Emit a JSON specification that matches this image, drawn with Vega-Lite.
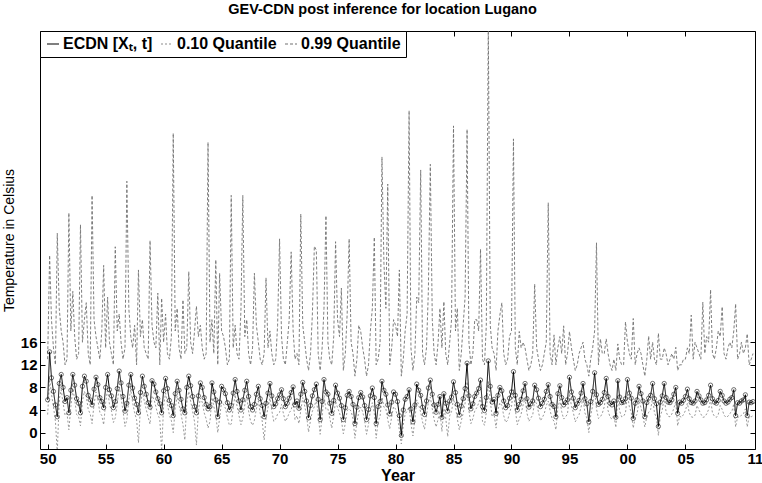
{
"$schema":"https://vega.github.io/schema/vega-lite/v6.json",
"width":715,"height":418,
"autosize":{"type":"none"},
"padding":{"left":40,"top":31,"right":7,"bottom":34},
"background":"white",
"title":{"text":"GEV-CDN post inference for location Lugano","font":"Liberation Sans","fontSize":14.5,"fontWeight":"bold","color":"black","offset":13,"dx":-15},
"config":{"view":{"stroke":"black","strokeWidth":1},"axis":{"labelFont":"Liberation Sans","titleFont":"Liberation Sans","labelColor":"black","titleColor":"black","tickColor":"black","grid":false,"domain":false},
 "legend":{"title":null,"orient":"top-left","direction":"horizontal","offset":0,"padding":5,"strokeColor":"black","fillColor":"white","symbolType":"stroke","symbolSize":144,"symbolStrokeWidth":1.2,"labelFont":"Liberation Sans","labelFontSize":16,"labelFontWeight":"bold","labelColor":"black","labelOffset":2,"columnPadding":5}},
"data":{"values":[
{"t":1950,"m":5.8,"a":3.2,"b":13},{"t":1950.17,"m":14.3,"a":9.5,"b":31.4},{"t":1950.33,"m":9.7,"a":6.8,"b":20},{"t":1950.5,"m":7.3,"a":4.6,"b":15},{"t":1950.67,"m":4.9,"a":2.0,"b":12},{"t":1950.83,"m":2.8,"a":-3.5,"b":35.3},
{"t":1951,"m":8.7,"a":5.9,"b":22},{"t":1951.17,"m":10.3,"a":7.6,"b":18},{"t":1951.33,"m":8.0,"a":5.2,"b":16},{"t":1951.5,"m":5.5,"a":3.1,"b":12},{"t":1951.67,"m":6.2,"a":3.4,"b":13},{"t":1951.83,"m":3.5,"a":0.5,"b":38.9},
{"t":1952,"m":7.5,"a":4.6,"b":18},{"t":1952.17,"m":10.3,"a":7.8,"b":25},{"t":1952.33,"m":8.4,"a":5.9,"b":17},{"t":1952.5,"m":6.0,"a":3.2,"b":13},{"t":1952.67,"m":5.2,"a":2.8,"b":14},{"t":1952.83,"m":3.5,"a":1.2,"b":36.8},
{"t":1953,"m":8.2,"a":5.6,"b":16},{"t":1953.17,"m":10.0,"a":7.3,"b":20},{"t":1953.33,"m":9.1,"a":6.4,"b":23},{"t":1953.5,"m":6.6,"a":4.1,"b":14},{"t":1953.67,"m":5.8,"a":3.3,"b":12},{"t":1953.83,"m":4.9,"a":1.6,"b":42},
{"t":1954,"m":7.7,"a":5.0,"b":20},{"t":1954.17,"m":9.8,"a":7.2,"b":17},{"t":1954.33,"m":8.5,"a":5.8,"b":15},{"t":1954.5,"m":6.2,"a":3.6,"b":13},{"t":1954.67,"m":5.5,"a":3.0,"b":18},{"t":1954.83,"m":4.4,"a":1.4,"b":29.6},
{"t":1955,"m":8.0,"a":5.3,"b":15},{"t":1955.17,"m":10.3,"a":7.7,"b":24},{"t":1955.33,"m":7.6,"a":5.0,"b":16},{"t":1955.5,"m":6.5,"a":3.9,"b":14},{"t":1955.67,"m":4.4,"a":1.8,"b":12},{"t":1955.83,"m":5.5,"a":2.6,"b":32.9},
{"t":1956,"m":7.8,"a":5.1,"b":18},{"t":1956.17,"m":10.9,"a":8.1,"b":21},{"t":1956.33,"m":8.8,"a":6.2,"b":16},{"t":1956.5,"m":6.4,"a":3.8,"b":13},{"t":1956.67,"m":3.8,"a":1.1,"b":15},{"t":1956.83,"m":5.2,"a":2.3,"b":44.5},
{"t":1957,"m":8.4,"a":5.8,"b":22},{"t":1957.17,"m":10.3,"a":7.6,"b":17},{"t":1957.33,"m":7.9,"a":5.3,"b":15},{"t":1957.5,"m":6.1,"a":3.5,"b":19},{"t":1957.67,"m":5.0,"a":2.3,"b":12},{"t":1957.83,"m":3.5,"a":-1.8,"b":28.8},
{"t":1958,"m":7.1,"a":4.4,"b":17},{"t":1958.17,"m":10.0,"a":7.4,"b":20},{"t":1958.33,"m":8.2,"a":5.6,"b":15},{"t":1958.5,"m":6.8,"a":4.1,"b":14},{"t":1958.67,"m":5.3,"a":2.7,"b":13},{"t":1958.83,"m":4.5,"a":1.5,"b":34},
{"t":1959,"m":9.2,"a":6.5,"b":19},{"t":1959.17,"m":8.6,"a":5.9,"b":16},{"t":1959.33,"m":7.2,"a":4.6,"b":15},{"t":1959.5,"m":6.0,"a":3.2,"b":24.7},{"t":1959.67,"m":5.1,"a":2.4,"b":12},{"t":1959.83,"m":3.5,"a":-3.2,"b":23.8},
{"t":1960,"m":7.4,"a":4.8,"b":16},{"t":1960.17,"m":9.6,"a":7.0,"b":21},{"t":1960.33,"m":7.8,"a":5.1,"b":14},{"t":1960.5,"m":5.7,"a":3.1,"b":13},{"t":1960.67,"m":4.8,"a":2.1,"b":17},{"t":1960.83,"m":3.0,"a":0.0,"b":53},
{"t":1961,"m":6.9,"a":4.3,"b":18},{"t":1961.17,"m":9.1,"a":6.5,"b":22},{"t":1961.33,"m":7.5,"a":4.9,"b":15},{"t":1961.5,"m":5.9,"a":3.3,"b":13},{"t":1961.67,"m":4.2,"a":1.4,"b":23.5},{"t":1961.83,"m":3.5,"a":-1.3,"b":14},
{"t":1962,"m":8.0,"a":5.4,"b":15},{"t":1962.17,"m":10.0,"a":7.3,"b":28.5},{"t":1962.33,"m":8.3,"a":5.6,"b":16},{"t":1962.5,"m":6.4,"a":3.8,"b":14},{"t":1962.67,"m":4.6,"a":1.9,"b":18},{"t":1962.83,"m":3.5,"a":-2.2,"b":22.4},
{"t":1963,"m":6.5,"a":3.9,"b":17},{"t":1963.17,"m":8.8,"a":6.1,"b":19},{"t":1963.33,"m":8.0,"a":5.4,"b":15},{"t":1963.5,"m":6.2,"a":3.5,"b":13},{"t":1963.67,"m":5.0,"a":2.4,"b":14},{"t":1963.83,"m":4.2,"a":0.8,"b":51.4},
{"t":1964,"m":4.6,"a":2.0,"b":16},{"t":1964.17,"m":8.8,"a":6.2,"b":20},{"t":1964.33,"m":7.2,"a":4.6,"b":14},{"t":1964.5,"m":5.8,"a":3.1,"b":30.6},{"t":1964.67,"m":2.8,"a":0.0,"b":12},{"t":1964.83,"m":5.4,"a":2.6,"b":28.2},
{"t":1965,"m":8.2,"a":5.5,"b":18},{"t":1965.17,"m":7.6,"a":5.0,"b":17},{"t":1965.33,"m":6.9,"a":4.3,"b":15},{"t":1965.5,"m":5.3,"a":2.7,"b":12},{"t":1965.67,"m":4.0,"a":1.3,"b":13},{"t":1965.83,"m":4.8,"a":1.5,"b":42},
{"t":1966,"m":7.0,"a":4.4,"b":15},{"t":1966.17,"m":9.4,"a":6.7,"b":19},{"t":1966.33,"m":7.3,"a":4.7,"b":14},{"t":1966.5,"m":5.6,"a":3.0,"b":13},{"t":1966.67,"m":4.0,"a":1.4,"b":21.7},{"t":1966.83,"m":5.8,"a":2.6,"b":42},
{"t":1967,"m":7.5,"a":4.9,"b":17},{"t":1967.17,"m":9.1,"a":6.4,"b":20},{"t":1967.33,"m":6.4,"a":3.8,"b":14},{"t":1967.5,"m":4.6,"a":2.0,"b":12},{"t":1967.67,"m":4.0,"a":1.3,"b":15},{"t":1967.83,"m":5.0,"a":2.2,"b":28.2},
{"t":1968,"m":6.8,"a":4.2,"b":19},{"t":1968.17,"m":8.2,"a":5.6,"b":16},{"t":1968.33,"m":6.0,"a":3.4,"b":13},{"t":1968.5,"m":4.8,"a":2.1,"b":12},{"t":1968.67,"m":2.8,"a":-1.3,"b":14},{"t":1968.83,"m":5.2,"a":2.5,"b":27.4},
{"t":1969,"m":7.0,"a":4.4,"b":15},{"t":1969.17,"m":8.7,"a":6.1,"b":18},{"t":1969.33,"m":6.5,"a":3.9,"b":14},{"t":1969.5,"m":4.6,"a":2.0,"b":12},{"t":1969.67,"m":5.1,"a":2.4,"b":13},{"t":1969.83,"m":6.0,"a":3.3,"b":19},
{"t":1970,"m":6.7,"a":3.6,"b":34.3},{"t":1970.17,"m":7.6,"a":5.0,"b":17},{"t":1970.33,"m":6.0,"a":3.4,"b":13},{"t":1970.5,"m":4.6,"a":2.0,"b":12},{"t":1970.67,"m":5.2,"a":2.6,"b":16},{"t":1970.83,"m":6.1,"a":3.5,"b":20},
{"t":1971,"m":7.1,"a":4.0,"b":32},{"t":1971.17,"m":8.1,"a":5.5,"b":18},{"t":1971.33,"m":4.9,"a":2.3,"b":13},{"t":1971.5,"m":5.6,"a":3.0,"b":14},{"t":1971.67,"m":4.3,"a":1.6,"b":12},{"t":1971.83,"m":6.8,"a":3.9,"b":38.7},
{"t":1972,"m":8.9,"a":6.2,"b":19},{"t":1972.17,"m":7.3,"a":4.7,"b":16},{"t":1972.33,"m":5.6,"a":3.0,"b":13},{"t":1972.5,"m":2.6,"a":0.1,"b":11},{"t":1972.67,"m":4.8,"a":2.2,"b":14},{"t":1972.83,"m":6.5,"a":3.8,"b":21},
{"t":1973,"m":7.6,"a":4.6,"b":33},{"t":1973.17,"m":8.6,"a":5.9,"b":32.3},{"t":1973.33,"m":5.9,"a":3.3,"b":14},{"t":1973.5,"m":2.3,"a":-0.3,"b":11},{"t":1973.67,"m":5.5,"a":2.8,"b":15},{"t":1973.83,"m":9.4,"a":6.6,"b":22},
{"t":1974,"m":7.2,"a":4.1,"b":38.4},{"t":1974.17,"m":6.8,"a":4.2,"b":16},{"t":1974.33,"m":5.2,"a":2.6,"b":13},{"t":1974.5,"m":3.4,"a":0.8,"b":12},{"t":1974.67,"m":5.7,"a":3.0,"b":17},{"t":1974.83,"m":8.4,"a":5.6,"b":33.8},
{"t":1975,"m":7.0,"a":4.4,"b":20},{"t":1975.17,"m":6.1,"a":3.5,"b":17},{"t":1975.33,"m":4.8,"a":2.2,"b":25.6},{"t":1975.5,"m":2.3,"a":-0.2,"b":11},{"t":1975.67,"m":4.4,"a":1.7,"b":14},{"t":1975.83,"m":6.6,"a":3.9,"b":21},
{"t":1976,"m":7.3,"a":4.2,"b":34.3},{"t":1976.17,"m":6.4,"a":3.8,"b":16},{"t":1976.33,"m":5.0,"a":2.4,"b":14},{"t":1976.5,"m":1.6,"a":-1.0,"b":10},{"t":1976.67,"m":4.5,"a":1.9,"b":13},{"t":1976.83,"m":6.2,"a":3.6,"b":19},
{"t":1977,"m":7.1,"a":4.5,"b":17.9},{"t":1977.17,"m":6.3,"a":3.7,"b":15},{"t":1977.33,"m":4.8,"a":2.2,"b":13},{"t":1977.5,"m":2.3,"a":-0.3,"b":10},{"t":1977.67,"m":4.1,"a":1.5,"b":12},{"t":1977.83,"m":6.5,"a":3.9,"b":18},
{"t":1978,"m":7.9,"a":5.3,"b":22},{"t":1978.17,"m":6.2,"a":3.4,"b":34.6},{"t":1978.33,"m":1.6,"a":-1.0,"b":12},{"t":1978.5,"m":4.6,"a":2.0,"b":13},{"t":1978.67,"m":5.5,"a":2.9,"b":16},{"t":1978.83,"m":9.1,"a":6.3,"b":48.8},
{"t":1979,"m":7.5,"a":4.5,"b":30},{"t":1979.17,"m":6.8,"a":4.2,"b":22},{"t":1979.33,"m":4.9,"a":2.3,"b":44},{"t":1979.5,"m":3.3,"a":0.7,"b":12},{"t":1979.67,"m":5.4,"a":2.8,"b":15},{"t":1979.83,"m":7.2,"a":4.6,"b":20},
{"t":1980,"m":6.8,"a":4.2,"b":19},{"t":1980.17,"m":5.5,"a":2.9,"b":17},{"t":1980.33,"m":3.0,"a":0.4,"b":28.8},{"t":1980.5,"m":-0.5,"a":-2.0,"b":10},{"t":1980.67,"m":4.0,"a":1.4,"b":13},{"t":1980.83,"m":5.9,"a":3.3,"b":18},
{"t":1981,"m":6.4,"a":3.8,"b":21},{"t":1981.17,"m":7.6,"a":4.6,"b":57},{"t":1981.33,"m":4.2,"a":1.6,"b":15},{"t":1981.5,"m":1.9,"a":-0.6,"b":11},{"t":1981.67,"m":4.9,"a":2.3,"b":14},{"t":1981.83,"m":8.6,"a":5.8,"b":24},
{"t":1982,"m":7.5,"a":4.9,"b":23},{"t":1982.17,"m":6.6,"a":3.6,"b":46.5},{"t":1982.33,"m":4.5,"a":1.9,"b":14},{"t":1982.5,"m":3.2,"a":0.6,"b":12},{"t":1982.67,"m":5.6,"a":3.0,"b":15},{"t":1982.83,"m":7.9,"a":5.3,"b":25},
{"t":1983,"m":9.3,"a":6.3,"b":47.5},{"t":1983.17,"m":6.8,"a":4.2,"b":20},{"t":1983.33,"m":4.9,"a":2.3,"b":14},{"t":1983.5,"m":3.6,"a":1.0,"b":12},{"t":1983.67,"m":5.0,"a":2.4,"b":16},{"t":1983.83,"m":6.4,"a":3.8,"b":22},
{"t":1984,"m":2.7,"a":0.2,"b":15},{"t":1984.17,"m":6.9,"a":4.3,"b":23.2},{"t":1984.33,"m":5.2,"a":2.6,"b":14},{"t":1984.5,"m":3.8,"a":-0.7,"b":12},{"t":1984.67,"m":5.6,"a":3.0,"b":16},{"t":1984.83,"m":6.3,"a":3.7,"b":20},
{"t":1985,"m":9.0,"a":6.0,"b":54.3},{"t":1985.17,"m":7.1,"a":4.5,"b":18},{"t":1985.33,"m":5.0,"a":2.4,"b":22},{"t":1985.5,"m":3.1,"a":0.5,"b":11},{"t":1985.67,"m":4.7,"a":2.1,"b":14},{"t":1985.83,"m":6.0,"a":3.4,"b":19},
{"t":1986,"m":7.8,"a":5.2,"b":24},{"t":1986.17,"m":12.3,"a":9.0,"b":53.7},{"t":1986.33,"m":6.5,"a":3.9,"b":16},{"t":1986.5,"m":4.2,"a":1.6,"b":12},{"t":1986.67,"m":5.1,"a":2.5,"b":14},{"t":1986.83,"m":6.4,"a":3.8,"b":20},
{"t":1987,"m":7.0,"a":4.4,"b":20},{"t":1987.17,"m":7.8,"a":5.2,"b":18},{"t":1987.33,"m":9.3,"a":6.3,"b":32.5},{"t":1987.5,"m":4.6,"a":2.0,"b":13},{"t":1987.67,"m":3.9,"a":1.3,"b":12},{"t":1987.83,"m":6.2,"a":3.6,"b":19},
{"t":1988,"m":12.7,"a":9.2,"b":72},{"t":1988.17,"m":8.2,"a":5.6,"b":19},{"t":1988.33,"m":5.4,"a":2.8,"b":15},{"t":1988.5,"m":5.9,"a":3.3,"b":14},{"t":1988.67,"m":3.4,"a":0.8,"b":11},{"t":1988.83,"m":6.6,"a":4.0,"b":18},
{"t":1989,"m":8.0,"a":5.3,"b":20.8},{"t":1989.17,"m":7.4,"a":4.8,"b":23},{"t":1989.33,"m":5.6,"a":3.0,"b":14},{"t":1989.5,"m":4.4,"a":1.8,"b":12},{"t":1989.67,"m":4.8,"a":2.2,"b":13},{"t":1989.83,"m":6.1,"a":3.5,"b":17},
{"t":1990,"m":7.2,"a":4.6,"b":18},{"t":1990.17,"m":10.8,"a":7.6,"b":52},{"t":1990.33,"m":6.6,"a":4.0,"b":15},{"t":1990.5,"m":4.0,"a":1.4,"b":12},{"t":1990.67,"m":5.0,"a":2.4,"b":17.9},{"t":1990.83,"m":5.9,"a":3.3,"b":15},
{"t":1991,"m":7.4,"a":4.9,"b":16},{"t":1991.17,"m":8.7,"a":6.1,"b":15},{"t":1991.33,"m":6.0,"a":3.5,"b":13},{"t":1991.5,"m":4.5,"a":2.0,"b":11},{"t":1991.67,"m":5.1,"a":2.6,"b":12},{"t":1991.83,"m":5.6,"a":3.1,"b":14},
{"t":1992,"m":8.4,"a":5.7,"b":26.3},{"t":1992.17,"m":7.6,"a":5.1,"b":15},{"t":1992.33,"m":6.1,"a":3.6,"b":13},{"t":1992.5,"m":4.6,"a":2.1,"b":11},{"t":1992.67,"m":5.2,"a":2.7,"b":12},{"t":1992.83,"m":5.9,"a":3.4,"b":14},
{"t":1993,"m":7.3,"a":4.8,"b":16},{"t":1993.17,"m":8.5,"a":5.6,"b":40.7},{"t":1993.33,"m":6.4,"a":3.9,"b":14},{"t":1993.5,"m":5.0,"a":2.5,"b":12},{"t":1993.67,"m":4.6,"a":2.0,"b":17.3},{"t":1993.83,"m":2.8,"a":0.5,"b":12},
{"t":1994,"m":6.9,"a":4.4,"b":15},{"t":1994.17,"m":8.3,"a":5.8,"b":17},{"t":1994.33,"m":6.2,"a":3.7,"b":14},{"t":1994.5,"m":4.9,"a":2.4,"b":18.9},{"t":1994.67,"m":5.3,"a":2.8,"b":12},{"t":1994.83,"m":5.8,"a":3.3,"b":14},
{"t":1995,"m":9.8,"a":6.9,"b":17.9},{"t":1995.17,"m":7.2,"a":4.7,"b":15},{"t":1995.33,"m":6.1,"a":3.6,"b":13},{"t":1995.5,"m":4.4,"a":1.9,"b":11},{"t":1995.67,"m":5.1,"a":2.6,"b":12},{"t":1995.83,"m":5.7,"a":3.2,"b":14},
{"t":1996,"m":7.0,"a":4.5,"b":15},{"t":1996.17,"m":8.7,"a":6.1,"b":16},{"t":1996.33,"m":6.0,"a":3.5,"b":13},{"t":1996.5,"m":5.1,"a":2.6,"b":12},{"t":1996.67,"m":1.9,"a":0.0,"b":10},{"t":1996.83,"m":5.5,"a":3.0,"b":13},
{"t":1997,"m":7.3,"a":4.8,"b":15},{"t":1997.17,"m":10.6,"a":7.6,"b":18},{"t":1997.33,"m":6.7,"a":4.2,"b":33.6},{"t":1997.5,"m":5.0,"a":2.5,"b":12},{"t":1997.67,"m":5.3,"a":2.8,"b":16.6},{"t":1997.83,"m":5.9,"a":3.4,"b":14},
{"t":1998,"m":7.1,"a":4.6,"b":14},{"t":1998.17,"m":9.6,"a":6.9,"b":16.6},{"t":1998.33,"m":6.4,"a":3.9,"b":14},{"t":1998.5,"m":5.2,"a":2.7,"b":12},{"t":1998.67,"m":4.9,"a":2.4,"b":11},{"t":1998.83,"m":5.6,"a":3.1,"b":13},
{"t":1999,"m":2.7,"a":0.9,"b":11},{"t":1999.17,"m":9.2,"a":6.6,"b":15.7},{"t":1999.33,"m":6.3,"a":3.8,"b":13},{"t":1999.5,"m":5.3,"a":2.8,"b":12},{"t":1999.67,"m":5.4,"a":2.9,"b":12},{"t":1999.83,"m":6.0,"a":3.5,"b":19.6},
{"t":2000,"m":9.4,"a":6.7,"b":16},{"t":2000.17,"m":7.0,"a":4.5,"b":14},{"t":2000.33,"m":6.1,"a":3.6,"b":13},{"t":2000.5,"m":2.5,"a":0.8,"b":20.2},{"t":2000.67,"m":5.2,"a":2.7,"b":12},{"t":2000.83,"m":5.8,"a":3.3,"b":14},
{"t":2001,"m":8.2,"a":5.6,"b":15},{"t":2001.17,"m":6.9,"a":4.4,"b":14},{"t":2001.33,"m":5.6,"a":3.1,"b":12},{"t":2001.5,"m":2.8,"a":1.0,"b":10},{"t":2001.67,"m":5.3,"a":2.8,"b":13},{"t":2001.83,"m":6.1,"a":3.6,"b":17.1},
{"t":2002,"m":6.6,"a":4.1,"b":13},{"t":2002.17,"m":8.7,"a":6.1,"b":16},{"t":2002.33,"m":6.0,"a":3.5,"b":13},{"t":2002.5,"m":5.1,"a":2.6,"b":12},{"t":2002.67,"m":1.1,"a":-0.5,"b":17.6},{"t":2002.83,"m":5.4,"a":2.9,"b":13},
{"t":2003,"m":6.5,"a":4.0,"b":13},{"t":2003.17,"m":8.7,"a":6.2,"b":15},{"t":2003.33,"m":6.2,"a":3.7,"b":14},{"t":2003.5,"m":5.4,"a":2.9,"b":12},{"t":2003.67,"m":5.3,"a":2.8,"b":13},{"t":2003.83,"m":5.8,"a":3.3,"b":14},
{"t":2004,"m":6.8,"a":4.3,"b":13},{"t":2004.17,"m":8.0,"a":5.5,"b":15.1},{"t":2004.33,"m":3.4,"a":1.2,"b":11},{"t":2004.5,"m":5.4,"a":2.9,"b":12},{"t":2004.67,"m":5.2,"a":2.7,"b":12},{"t":2004.83,"m":5.7,"a":3.2,"b":13},
{"t":2005,"m":6.4,"a":3.9,"b":13},{"t":2005.17,"m":7.7,"a":5.2,"b":15},{"t":2005.33,"m":6.0,"a":3.5,"b":14},{"t":2005.5,"m":5.3,"a":2.8,"b":20.8},{"t":2005.67,"m":5.2,"a":2.7,"b":13},{"t":2005.83,"m":5.6,"a":3.1,"b":16},
{"t":2006,"m":7.3,"a":4.8,"b":15},{"t":2006.17,"m":6.5,"a":4.0,"b":14},{"t":2006.33,"m":5.8,"a":3.3,"b":13},{"t":2006.5,"m":5.2,"a":2.7,"b":23.1},{"t":2006.67,"m":5.3,"a":2.8,"b":14},{"t":2006.83,"m":5.8,"a":3.3,"b":17},
{"t":2007,"m":6.6,"a":4.1,"b":16},{"t":2007.17,"m":8.4,"a":5.9,"b":25.3},{"t":2007.33,"m":6.0,"a":3.5,"b":14},{"t":2007.5,"m":5.4,"a":2.9,"b":13},{"t":2007.67,"m":5.2,"a":2.7,"b":15},{"t":2007.83,"m":5.7,"a":3.2,"b":18},
{"t":2008,"m":7.3,"a":4.8,"b":17},{"t":2008.17,"m":6.6,"a":4.1,"b":22.3},{"t":2008.33,"m":5.6,"a":3.1,"b":14},{"t":2008.5,"m":5.2,"a":2.7,"b":13},{"t":2008.67,"m":5.4,"a":2.9,"b":15},{"t":2008.83,"m":5.9,"a":3.4,"b":16},
{"t":2009,"m":6.2,"a":3.7,"b":15},{"t":2009.17,"m":7.6,"a":5.1,"b":18},{"t":2009.33,"m":3.0,"a":1.0,"b":22.8},{"t":2009.5,"m":5.3,"a":2.8,"b":13},{"t":2009.67,"m":5.2,"a":2.7,"b":14},{"t":2009.83,"m":5.6,"a":3.1,"b":16},
{"t":2010,"m":5.8,"a":3.3,"b":14},{"t":2010.17,"m":6.7,"a":4.2,"b":15},{"t":2010.33,"m":3.0,"a":1.0,"b":17.5},{"t":2010.5,"m":5.4,"a":2.9,"b":12},{"t":2010.67,"m":5.3,"a":2.8,"b":13},{"t":2010.83,"m":5.5,"a":3.0,"b":14}
]},
"transform":[{"fold":["m","a","b"],"as":["s","v"]}],
"layer":[
{"transform":[{"filter":"datum.s != 'm'"}],
 "mark":{"type":"line","strokeWidth":0.9,"clip":true},
 "encoding":{
  "x":{"field":"t","type":"quantitative","scale":{"domain":[1949.34,2011],"nice":false,"zero":false},
       "axis":{"orient":"bottom","values":[1950,1955,1960,1965,1970,1975,1980,1985,1990,1995,2000,2005,2011],
        "labelExpr":"(datum.value % 100) < 10 ? '0' + (datum.value % 100) : '' + (datum.value % 100)",
        "labelFontSize":15,"labelFontWeight":"bold","labelFlush":false,"labelOverlap":false,"tickSize":-5,"labelPadding":7,
        "title":"Year","titleFontSize":16,"titleFontWeight":"bold","titlePadding":1}},
  "y":{"field":"v","type":"quantitative","scale":{"domain":[-2.9,71.1],"nice":false,"zero":false},
       "axis":{"orient":"left","values":[0,4,8,12,16],"labelFontSize":15,"labelFontWeight":"bold","tickSize":-5,"labelPadding":8,
        "title":"Temperature in Celsius","titleFontSize":14,"titleFontWeight":"normal","titlePadding":4}},
  "color":{"field":"s","type":"nominal","scale":{"domain":["m","a","b"],"range":["#000000","#8c8c8c","#707070"]},
       "legend":{"labelExpr":"datum.value == 'm' ? 'ECDN [Xₜ, t]' : datum.value == 'a' ? '0.10 Quantile' : '0.99 Quantile'"}},
  "strokeDash":{"field":"s","type":"nominal","scale":{"domain":["m","a","b"],"range":[[1,0],[2,2],[3,2]]},
       "legend":{"labelExpr":"datum.value == 'm' ? 'ECDN [Xₜ, t]' : datum.value == 'a' ? '0.10 Quantile' : '0.99 Quantile'"}}
 }},
{"transform":[{"filter":"datum.s == 'm'"}],
 "mark":{"type":"line","strokeWidth":1,"clip":true},
 "encoding":{
  "x":{"field":"t","type":"quantitative","scale":{"domain":[1949.34,2011],"nice":false,"zero":false},"axis":null},
  "y":{"field":"v","type":"quantitative","scale":{"domain":[-2.9,71.1],"nice":false,"zero":false},"axis":null},
  "color":{"field":"s","type":"nominal","scale":{"domain":["m","a","b"],"range":["#000000","#8c8c8c","#707070"]},
       "legend":{"labelExpr":"datum.value == 'm' ? 'ECDN [Xₜ, t]' : datum.value == 'a' ? '0.10 Quantile' : '0.99 Quantile'"}},
  "strokeDash":{"field":"s","type":"nominal","scale":{"domain":["m","a","b"],"range":[[1,0],[2,2],[3,2]]},
       "legend":{"labelExpr":"datum.value == 'm' ? 'ECDN [Xₜ, t]' : datum.value == 'a' ? '0.10 Quantile' : '0.99 Quantile'"}}
 }},
{"transform":[{"filter":"datum.s == 'm'"}],
 "mark":{"type":"point","filled":false,"color":"black","size":18,"strokeWidth":0.8,"clip":true},
 "encoding":{
  "x":{"field":"t","type":"quantitative","scale":{"domain":[1949.34,2011],"nice":false,"zero":false},"axis":null},
  "y":{"field":"v","type":"quantitative","scale":{"domain":[-2.9,71.1],"nice":false,"zero":false},"axis":null}
 }},
{"transform":[{"filter":"datum.s == 'm'"}],
 "mark":{"type":"point","opacity":0},
 "encoding":{
  "x":{"field":"t","type":"quantitative","scale":{"domain":[1949.34,2011],"nice":false,"zero":false},
       "axis":{"orient":"top","values":[1950,1955,1960,1965,1970,1975,1980,1985,1990,1995,2000,2005,2011],"labels":false,"title":null,"tickSize":-5}},
  "y":{"field":"v","type":"quantitative","scale":{"domain":[-2.9,71.1],"nice":false,"zero":false},
       "axis":{"orient":"right","values":[0,4,8,12,16],"labels":false,"title":null,"tickSize":-5}}
 }}
],
"resolve":{"axis":{"x":"independent","y":"independent"}}
}
